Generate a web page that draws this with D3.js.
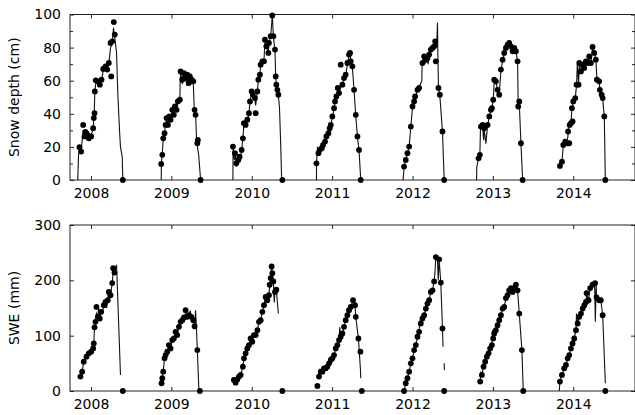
<!DOCTYPE html>
<html>
<head>
<meta charset="utf-8">
<script src="https://cdn.jsdelivr.net/npm/d3@7"></script>
<style>
body { margin: 0; background: #fff; }
text { font-family: "DejaVu Sans", sans-serif; }
.axis text { font-size: 14px; fill: #000; }
.axis line { stroke: #222; }
.frame { fill: none; stroke: #222; stroke-width: 1; }
.sensor { fill: none; stroke: #111; stroke-width: 1.1; }
.manual { fill: #000; }
</style>
</head>
<body>
<script>
// tick labels
var yearTicks = [2008, 2009, 2010, 2011, 2012, 2013, 2014];
var depthTicks = [0, 20, 40, 60, 80, 100];
var depthMinor = [10, 30, 50, 70, 90];
var sweTicks = [0, 100, 200, 300];

// snow depth sensor (cm), null = gap
var depthSensor = [
  [2007.836,0],[2007.845,15],[2007.857,19],[2007.878,18],[2007.903,30],[2007.919,27],[2007.944,27],[2007.973,25],[2008.002,27],[2008.027,31],[2008.040,40],[2008.048,53],[2008.060,59],[2008.085,58],[2008.110,58],[2008.131,60],[2008.152,66],[2008.181,68],[2008.202,67],[2008.222,70],[2008.243,80],[2008.264,82],[2008.280,92],[2008.296,86],[2008.318,77],[2008.334,52],[2008.355,30],[2008.367,20],[2008.389,14],[2008.396,0],[2008.5,null],
  [2008.874,0],[2008.876,10],[2008.887,16],[2008.899,25],[2008.915,29],[2008.928,33],[2008.940,37],[2008.957,34],[2008.974,38],[2008.990,37],[2009.011,42],[2009.031,40],[2009.044,44],[2009.065,42],[2009.081,47],[2009.106,48],[2009.110,60],[2009.115,65],[2009.136,58],[2009.145,64],[2009.156,60],[2009.177,63],[2009.190,57],[2009.198,63],[2009.218,60],[2009.230,62],[2009.252,60],[2009.273,58],[2009.283,45],[2009.301,40],[2009.315,23],[2009.340,15],[2009.364,0],[2009.5,null],
  [2009.766,0],[2009.768,20],[2009.785,12],[2009.800,16],[2009.808,8],[2009.833,12],[2009.849,14],[2009.860,12],[2009.874,18],[2009.890,25],[2009.903,34],[2009.924,33],[2009.945,36],[2009.965,40],[2009.978,47],[2009.999,53],[2010.015,50],[2010.040,48],[2010.049,45],[2010.070,54],[2010.082,60],[2010.102,64],[2010.111,70],[2010.132,71],[2010.152,72],[2010.164,84],[2010.182,80],[2010.207,77],[2010.214,83],[2010.235,86],[2010.256,100],[2010.269,87],[2010.289,78],[2010.298,62],[2010.306,57],[2010.319,54],[2010.331,51],[2010.345,44],[2010.360,22],[2010.372,0],[2010.5,null],
  [2010.805,0],[2010.806,10],[2010.818,20],[2010.830,16],[2010.846,18],[2010.871,19],[2010.887,21],[2010.912,23],[2010.929,26],[2010.954,28],[2010.970,31],[2010.983,33],[2011.003,38],[2011.024,43],[2011.036,47],[2011.053,50],[2011.070,55],[2011.086,52],[2011.107,56],[2011.128,57],[2011.148,62],[2011.169,63],[2011.190,70],[2011.210,75],[2011.223,77],[2011.232,72],[2011.252,68],[2011.273,54],[2011.294,39],[2011.315,26],[2011.335,18],[2011.356,0],[2011.5,null],
  [2011.883,0],[2011.895,8],[2011.916,12],[2011.937,16],[2011.958,20],[2011.979,32],[2012.000,44],[2012.020,48],[2012.032,50],[2012.062,54],[2012.082,56],[2012.116,60],[2012.120,72],[2012.124,70],[2012.135,76],[2012.145,74],[2012.166,71],[2012.186,74],[2012.195,70],[2012.207,76],[2012.228,79],[2012.249,80],[2012.269,82],[2012.282,84],[2012.300,80],[2012.311,95],[2012.316,75],[2012.323,56],[2012.340,51],[2012.373,29],[2012.394,0],[2012.5,null],
  [2012.797,0],[2012.800,8],[2012.822,13],[2012.838,15],[2012.845,30],[2012.851,32],[2012.872,33],[2012.885,24],[2012.892,31],[2012.913,22],[2012.934,33],[2012.955,38],[2012.975,42],[2012.988,44],[2013.004,48],[2013.017,60],[2013.037,59],[2013.058,55],[2013.079,52],[2013.100,66],[2013.121,72],[2013.141,76],[2013.162,79],[2013.183,82],[2013.203,82],[2013.224,78],[2013.245,79],[2013.266,79],[2013.286,78],[2013.307,72],[2013.315,45],[2013.328,47],[2013.349,22],[2013.370,0],[2013.5,null],
  [2013.834,9],[2013.859,11],[2013.876,21],[2013.900,23],[2013.930,25],[2013.940,30],[2013.950,33],[2013.971,34],[2013.983,43],[2014.000,47],[2014.025,50],[2014.041,57],[2014.050,70],[2014.066,58],[2014.075,70],[2014.095,65],[2014.116,70],[2014.136,66],[2014.157,72],[2014.178,70],[2014.198,75],[2014.219,70],[2014.240,80],[2014.261,77],[2014.281,73],[2014.294,61],[2014.322,60],[2014.331,55],[2014.353,51],[2014.366,49],[2014.386,38],[2014.399,0]
];

// snow depth manual measurements (cm)
var depthManual = [
  [2007.857,19.8],[2007.878,17.2],[2007.903,33.3],[2007.919,26.3],[2007.930,29],[2007.944,28.3],[2007.960,27],[2007.973,25.2],[2008.002,26.3],[2008.027,31.3],[2008.035,37.4],[2008.044,40.4],[2008.048,53.5],[2008.060,60.2],[2008.085,59.6],[2008.110,57.6],[2008.131,60.6],[2008.152,67.1],[2008.181,68.7],[2008.202,66.7],[2008.222,70.7],[2008.252,62.6],[2008.243,82.8],[2008.264,83.8],[2008.284,95.4],[2008.296,87.9],[2008.396,0],
  [2008.874,9.7],[2008.887,15.2],[2008.899,25.2],[2008.915,28.3],[2008.928,33.3],[2008.940,37.4],[2008.957,33.3],[2008.974,38.4],[2008.990,36.4],[2009.011,42.4],[2009.031,39.4],[2009.044,44.4],[2009.065,42.4],[2009.081,47.5],[2009.106,48.5],[2009.115,65.6],[2009.136,60.6],[2009.156,64.6],[2009.177,61.6],[2009.198,63.6],[2009.218,58.6],[2009.230,62.6],[2009.252,60.6],[2009.273,59.6],[2009.289,42.4],[2009.301,39.4],[2009.323,22.2],[2009.330,24.2],[2009.364,0],
  [2009.766,20.2],[2009.791,16.2],[2009.808,10.1],[2009.833,12.1],[2009.849,14.1],[2009.874,18.2],[2009.890,25.2],[2009.903,34.3],[2009.924,33.3],[2009.945,36.4],[2009.965,40.4],[2009.978,47.5],[2009.999,53.5],[2010.015,51.5],[2010.040,49.5],[2010.049,40.4],[2010.070,53.5],[2010.082,60.6],[2010.102,63.6],[2010.111,69.7],[2010.132,71.7],[2010.152,71.7],[2010.164,84.8],[2010.182,80.8],[2010.207,76.8],[2010.214,82.8],[2010.235,86.9],[2010.256,99.4],[2010.269,86.9],[2010.289,78.8],[2010.298,62.6],[2010.306,57.6],[2010.319,54.5],[2010.331,51.5],[2010.381,0],
  [2010.805,10.1],[2010.830,16.2],[2010.846,18.2],[2010.871,19.2],[2010.887,21.2],[2010.912,23.2],[2010.929,26.3],[2010.954,28.3],[2010.970,31.3],[2010.983,33.3],[2011.003,38.4],[2011.024,43.4],[2011.036,47.5],[2011.053,50.5],[2011.070,55.6],[2011.086,52.5],[2011.107,69.7],[2011.128,57.6],[2011.148,61.6],[2011.169,63.6],[2011.190,70.7],[2011.210,75.8],[2011.223,76.8],[2011.232,71.7],[2011.252,68.7],[2011.273,54.5],[2011.294,39.4],[2011.315,26.3],[2011.335,18.2],[2011.356,0],
  [2011.895,8.1],[2011.916,12.1],[2011.937,16.2],[2011.958,20.2],[2011.979,32.3],[2012.000,44.4],[2012.020,47.5],[2012.032,50.5],[2012.062,54.5],[2012.082,55.6],[2012.124,70.7],[2012.145,74.7],[2012.166,72.7],[2012.186,73.7],[2012.207,75.8],[2012.228,78.8],[2012.249,79.8],[2012.269,80.8],[2012.282,83.8],[2012.290,71.7],[2012.323,55.6],[2012.340,51.5],[2012.373,29.3],[2012.394,0],
  [2012.822,13.1],[2012.838,15.2],[2012.851,32.3],[2012.872,33.3],[2012.892,31.3],[2012.934,33.3],[2012.955,38.4],[2012.975,42.4],[2012.988,43.4],[2013.004,48.5],[2013.017,60.6],[2013.037,59.6],[2013.058,54.5],[2013.079,51.5],[2013.100,66.7],[2013.121,72.7],[2013.141,76.8],[2013.162,79.8],[2013.183,81.8],[2013.203,82.8],[2013.224,80.8],[2013.245,77.8],[2013.266,79.8],[2013.286,77.8],[2013.307,71.7],[2013.315,44.4],[2013.328,47.5],[2013.349,22.2],[2013.370,0],
  [2013.834,8.5],[2013.859,11.1],[2013.876,21.2],[2013.900,23.2],[2013.930,22.2],[2013.950,22.2],[2013.935,29.3],[2013.955,33.3],[2013.971,34.3],[2013.991,35.4],[2013.983,43.4],[2014.000,47.5],[2014.025,49.5],[2014.041,57.6],[2014.066,57.6],[2014.075,70.7],[2014.095,65.6],[2014.116,69.7],[2014.136,67.7],[2014.157,71.7],[2014.178,70.7],[2014.198,74.7],[2014.219,70.7],[2014.240,80.4],[2014.261,76.8],[2014.281,72.7],[2014.294,60.6],[2014.322,59.6],[2014.331,54.5],[2014.353,51.5],[2014.366,49.5],[2014.386,38.4],[2014.399,0]
];

// SWE sensor (mm), null = gap
var sweSensor = [
  [2007.869,25],[2007.890,35],[2007.910,53],[2007.944,62],[2007.973,68],[2008.002,71],[2008.027,77],[2008.035,86],[2008.044,115],[2008.056,125],[2008.068,140],[2008.085,134],[2008.095,150],[2008.110,131],[2008.127,143],[2008.140,140],[2008.159,155],[2008.181,161],[2008.195,150],[2008.209,164],[2008.222,179],[2008.243,173],[2008.264,195],[2008.276,215],[2008.293,214],[2008.318,228],[2008.367,29],[2008.5,null],
  [2008.878,14],[2008.887,23],[2008.899,35],[2008.915,59],[2008.928,65],[2008.949,71],[2008.969,83],[2008.990,77],[2009.011,92],[2009.031,95],[2009.052,107],[2009.073,101],[2009.094,116],[2009.115,125],[2009.136,128],[2009.156,133],[2009.177,140],[2009.198,134],[2009.218,137],[2009.235,145],[2009.248,134],[2009.273,128],[2009.289,117],[2009.301,146],[2009.310,120],[2009.323,74],[2009.343,0],[2009.5,null],
  [2009.778,20],[2009.800,15],[2009.820,21],[2009.841,26],[2009.862,29],[2009.890,44],[2009.903,59],[2009.924,68],[2009.945,77],[2009.965,83],[2009.986,95],[2010.007,89],[2010.027,101],[2010.049,101],[2010.070,110],[2010.090,125],[2010.111,128],[2010.132,143],[2010.152,155],[2010.173,170],[2010.194,164],[2010.214,173],[2010.223,192],[2010.235,204],[2010.248,225],[2010.256,213],[2010.269,198],[2010.280,160],[2010.289,179],[2010.306,183],[2010.331,140],[2010.5,null],
  [2010.837,26],[2010.845,40],[2010.858,35],[2010.879,35],[2010.890,45],[2010.899,41],[2010.920,41],[2010.941,44],[2010.962,50],[2010.983,56],[2011.003,59],[2011.024,65],[2011.045,77],[2011.066,83],[2011.086,92],[2011.095,115],[2011.107,98],[2011.128,104],[2011.148,116],[2011.169,128],[2011.190,137],[2011.210,146],[2011.231,152],[2011.260,164],[2011.285,155],[2011.294,134],[2011.327,95],[2011.352,40],[2011.356,23],[2011.5,null],
  [2011.895,0],[2011.916,14],[2011.937,23],[2011.958,35],[2011.979,50],[2012.000,59],[2012.020,74],[2012.041,83],[2012.062,98],[2012.082,107],[2012.090,125],[2012.103,122],[2012.124,131],[2012.145,137],[2012.166,149],[2012.186,158],[2012.207,164],[2012.228,179],[2012.249,182],[2012.269,198],[2012.280,215],[2012.290,242],[2012.310,240],[2012.320,200],[2012.331,238],[2012.352,196],[2012.373,113],[2012.380,80],[2012.385,null],[2012.394,50],[2012.396,38],[2012.5,null],
  [2012.842,17],[2012.850,35],[2012.863,29],[2012.884,44],[2012.904,53],[2012.925,62],[2012.946,68],[2012.966,77],[2012.988,83],[2012.995,110],[2013.004,95],[2013.017,104],[2013.037,110],[2013.058,119],[2013.079,128],[2013.100,137],[2013.121,149],[2013.141,152],[2013.162,168],[2013.183,173],[2013.203,182],[2013.224,186],[2013.245,179],[2013.266,186],[2013.286,192],[2013.307,182],[2013.328,140],[2013.361,74],[2013.378,0],[2013.5,null],
  [2013.826,0],[2013.834,17],[2013.859,29],[2013.887,41],[2013.909,47],[2013.930,59],[2013.950,65],[2013.971,77],[2013.991,86],[2014.012,95],[2014.034,110],[2014.040,140],[2014.055,122],[2014.075,134],[2014.096,140],[2014.117,149],[2014.137,155],[2014.158,161],[2014.165,177],[2014.190,164],[2014.210,186],[2014.240,192],[2014.265,195],[2014.275,125],[2014.285,195],[2014.290,169],[2014.322,164],[2014.343,164],[2014.366,137],[2014.399,14]
];

// SWE manual measurements (mm)
var sweManual = [
  [2007.869,26],[2007.890,35],[2007.910,53],[2007.944,62],[2007.973,68],[2008.002,71],[2008.027,77],[2008.035,86],[2008.044,115],[2008.068,152],[2008.056,125],[2008.085,134],[2008.110,131],[2008.127,143],[2008.159,155],[2008.181,161],[2008.209,164],[2008.222,179],[2008.243,173],[2008.264,195],[2008.276,222],[2008.293,214],[2008.396,0],
  [2008.878,14],[2008.887,23],[2008.899,35],[2008.915,59],[2008.928,65],[2008.949,71],[2008.969,83],[2008.990,77],[2009.011,92],[2009.031,95],[2009.052,107],[2009.073,101],[2009.094,116],[2009.115,125],[2009.136,128],[2009.156,133],[2009.177,146],[2009.198,134],[2009.218,137],[2009.248,134],[2009.273,128],[2009.289,117],[2009.323,74],[2009.355,0],
  [2009.778,20],[2009.800,15],[2009.820,21],[2009.841,26],[2009.862,29],[2009.890,44],[2009.903,59],[2009.924,68],[2009.945,77],[2009.965,83],[2009.986,95],[2010.007,89],[2010.027,101],[2010.049,101],[2010.070,110],[2010.090,125],[2010.111,128],[2010.132,143],[2010.152,155],[2010.173,170],[2010.194,164],[2010.214,173],[2010.223,192],[2010.235,204],[2010.248,225],[2010.256,213],[2010.269,198],[2010.289,179],[2010.306,183],[2010.381,0],
  [2010.817,9],[2010.837,26],[2010.858,35],[2010.879,35],[2010.899,41],[2010.920,41],[2010.941,44],[2010.962,50],[2010.983,56],[2011.003,59],[2011.024,65],[2011.045,77],[2011.066,83],[2011.086,92],[2011.107,98],[2011.128,104],[2011.148,116],[2011.169,128],[2011.190,137],[2011.210,146],[2011.231,152],[2011.260,164],[2011.285,155],[2011.294,134],[2011.327,95],[2011.352,71],[2011.369,0],
  [2011.895,0],[2011.916,14],[2011.937,23],[2011.958,35],[2011.979,50],[2012.000,59],[2012.020,74],[2012.041,83],[2012.062,98],[2012.082,107],[2012.103,122],[2012.124,131],[2012.145,137],[2012.166,149],[2012.186,158],[2012.207,164],[2012.228,179],[2012.249,182],[2012.269,198],[2012.290,242],[2012.331,238],[2012.352,196],[2012.373,113],[2012.394,0],
  [2012.842,17],[2012.863,29],[2012.884,44],[2012.904,53],[2012.925,62],[2012.946,68],[2012.966,77],[2012.988,83],[2013.004,95],[2013.017,104],[2013.037,110],[2013.058,119],[2013.079,128],[2013.100,137],[2013.121,149],[2013.141,152],[2013.162,168],[2013.183,173],[2013.203,182],[2013.224,186],[2013.245,179],[2013.266,186],[2013.286,192],[2013.307,182],[2013.328,140],[2013.361,74],[2013.378,0],
  [2013.834,17],[2013.859,29],[2013.887,41],[2013.909,47],[2013.930,59],[2013.950,65],[2013.971,77],[2013.991,86],[2014.012,95],[2014.034,110],[2014.055,122],[2014.075,134],[2014.096,140],[2014.117,149],[2014.137,155],[2014.158,161],[2014.165,177],[2014.190,164],[2014.210,186],[2014.240,192],[2014.272,195],[2014.290,169],[2014.322,164],[2014.343,164],[2014.366,137],[2014.399,0]
];

var width = 635,
    height = 415,
    left = 70,
    right = 635;

var svg = d3.select('body').append('svg')
    .attr('width', width)
    .attr('height', height);

var x = d3.scaleLinear()
    .domain([2007.739, 2014.768])
    .range([left, right]);

function panel(top, bottom, yMax, ticks, minor, label, sensor, manual) {
    var y = d3.scaleLinear().domain([0, yMax]).range([bottom, top]);
    var g = svg.append('g');

    g.append('g')
        .attr('class', 'axis')
        .attr('transform', 'translate(' + left + ',0)')
        .call(d3.axisLeft(y).tickValues(ticks).tickSize(-4).tickSizeOuter(0).tickPadding(9));

    g.append('g')
        .attr('class', 'axis')
        .attr('transform', 'translate(' + right + ',0)')
        .call(d3.axisRight(y).tickValues(ticks).tickSize(-4).tickSizeOuter(0).tickFormat(''));

    if (minor) {
        g.append('g')
            .attr('class', 'axis')
            .attr('transform', 'translate(' + left + ',0)')
            .call(d3.axisLeft(y).tickValues(minor).tickSize(-3).tickSizeOuter(0).tickFormat(''));
        g.append('g')
            .attr('class', 'axis')
            .attr('transform', 'translate(' + right + ',0)')
            .call(d3.axisRight(y).tickValues(minor).tickSize(-3).tickSizeOuter(0).tickFormat(''));
    }

    g.append('g')
        .attr('class', 'axis')
        .attr('transform', 'translate(0,' + bottom + ')')
        .call(d3.axisBottom(x).tickValues(yearTicks).tickFormat(d3.format('d')).tickSize(-4).tickSizeOuter(0).tickPadding(8));

    g.append('g')
        .attr('class', 'axis')
        .attr('transform', 'translate(0,' + top + ')')
        .call(d3.axisTop(x).tickValues(yearTicks).tickSize(-4).tickSizeOuter(0).tickFormat(''));

    g.selectAll('.axis .domain').remove();

    g.append('rect')
        .attr('class', 'frame')
        .attr('x', left)
        .attr('y', top)
        .attr('width', right - left)
        .attr('height', bottom - top);

    var line = d3.line()
        .defined(function(d) { return d[1] !== null; })
        .x(function(d) { return x(d[0]); })
        .y(function(d) { return y(d[1]); });

    g.append('path')
        .datum(sensor)
        .attr('class', 'sensor')
        .attr('d', line);

    g.selectAll('circle.manual')
        .data(manual)
        .enter().append('circle')
        .attr('class', 'manual')
        .attr('cx', function(d) { return x(d[0]); })
        .attr('cy', function(d) { return y(d[1]); })
        .attr('r', 2.9);

    g.append('text')
        .attr('transform', 'translate(19,' + ((top + bottom) / 2) + ')rotate(-90)')
        .attr('text-anchor', 'middle')
        .style('font-size', '14px')
        .text(label);
}

panel(14.5, 180, 100, depthTicks, depthMinor, 'Snow depth (cm)', depthSensor, depthManual);
panel(225, 391, 300, sweTicks, null, 'SWE (mm)', sweSensor, sweManual);
</script>
</body>
</html>
